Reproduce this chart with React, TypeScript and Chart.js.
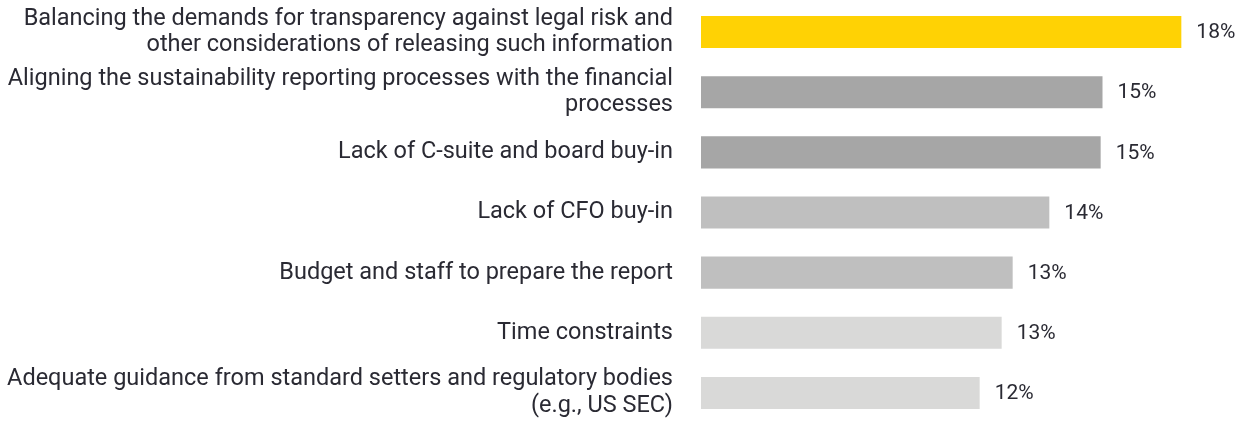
import React, { useEffect, useRef } from "react";
import { Chart, registerables } from "chart.js";

Chart.register(...registerables);

const categories: string[][] = [
  ["Balancing the demands for transparency against legal risk and", "other considerations of releasing such information"],
  ["Aligning the sustainability reporting processes with the financial", "processes"],
  ["Lack of C-suite and board buy-in"],
  ["Lack of CFO buy-in"],
  ["Budget and staff to prepare the report"],
  ["Time constraints"],
  ["Adequate guidance from standard setters and regulatory bodies", "(e.g., US SEC)"],
];

const values: number[] = [17.6, 15.45, 15.4, 14.0, 13.0, 12.7, 12.1];

const barColors: string[] = ["#FFD204", "#A6A6A6", "#A6A6A6", "#BFBFBF", "#BFBFBF", "#D9D9D8", "#D9D9D8"];

const FONT = "Roboto, 'Liberation Sans', sans-serif";
const TEXT = "#2A2A33";

const valueLabels = {
  id: "valueLabels",
  afterDatasetsDraw(chart: any) {
    const ctx = chart.ctx;
    const meta = chart.getDatasetMeta(0);
    const data = chart.data.datasets[0].data as number[];
    ctx.save();
    ctx.font = `21px ${FONT}`;
    ctx.fillStyle = TEXT;
    ctx.textAlign = "left";
    ctx.textBaseline = "middle";
    meta.data.forEach((bar: any, i: number) => {
      ctx.fillText(`${Math.round(data[i])}%`, bar.x + 15, bar.y + 1);
    });
    ctx.restore();
  },
};

export default function App() {
  const ref = useRef<HTMLCanvasElement | null>(null);
  useEffect(() => {
    if (!ref.current) return;
    const chart = new Chart(ref.current, {
      type: "bar",
      data: {
        labels: categories,
        datasets: [
          {
            data: values,
            backgroundColor: barColors,
            borderWidth: 0,
            barPercentage: 32 / 60,
            categoryPercentage: 1,
          },
        ],
      },
      options: {
        indexAxis: "y",
        animation: false,
        responsive: true,
        maintainAspectRatio: false,
        layout: { padding: { top: 2, bottom: 0, left: 0, right: 8 } },
        plugins: {
          legend: { display: false },
          tooltip: { enabled: false },
        },
        scales: {
          x: {
            display: false,
            min: 4.5,
            max: 19.5,
          },
          y: {
            afterFit: (scale: any) => {
              scale.width = 701;
              scale.paddingTop = 0;
              scale.paddingBottom = 0;
            },
            grid: { display: false, drawTicks: false },
            border: { display: false },
            ticks: {
              padding: 28,
              color: TEXT,
              font: { family: FONT, size: 23.5, lineHeight: 1.14 },
            },
          },
        },
      },
      plugins: [valueLabels],
    });
    return () => chart.destroy();
  }, []);
  return (
    <div style={{ position: "absolute", left: 0, top: 0, width: 1259, height: 423 }}>
      <canvas ref={ref} />
    </div>
  );
}
